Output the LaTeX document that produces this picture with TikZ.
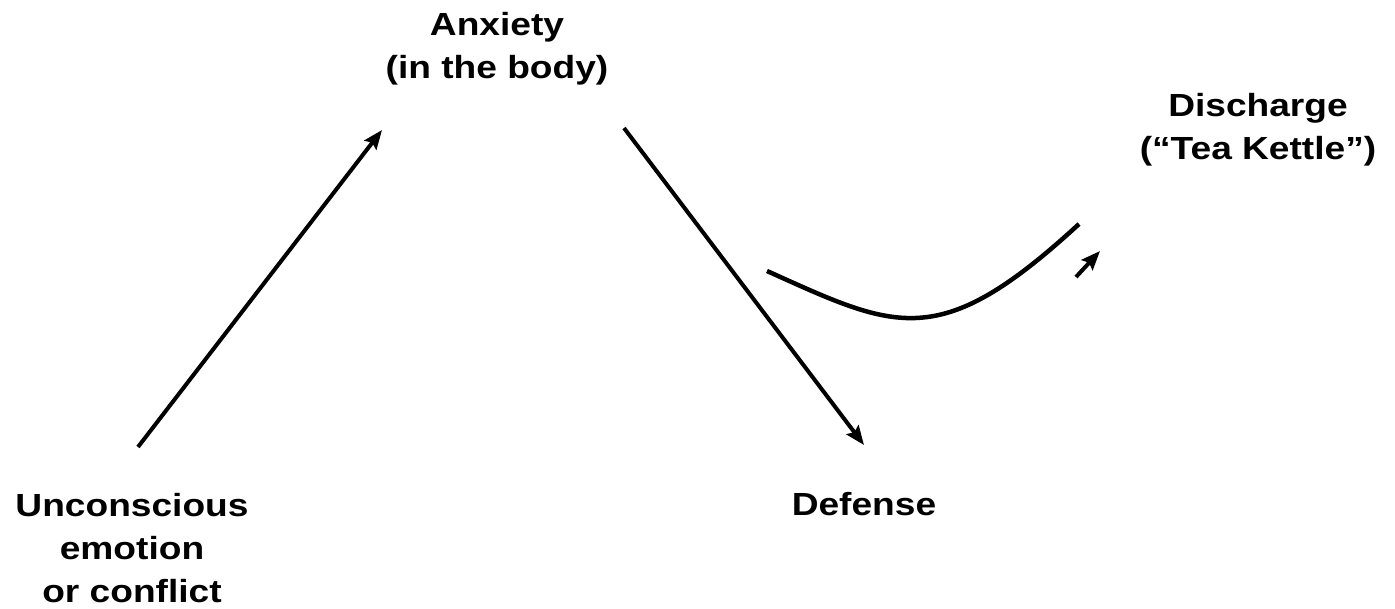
\documentclass[tikz,border=0pt]{standalone}
\usepackage{fontspec}
\setmainfont{Liberation Sans}
\newfontfamily\lblfont[FakeStretch=1.16]{Liberation Sans}
\usetikzlibrary{arrows.meta}
\tikzset{
  etiqueta/.style={
    align=center, inner sep=0pt, anchor=base,
    font=\lblfont\bfseries\fontsize{32}{43}\selectfont},
  flecha/.style={-{Stealth[length=19pt,width=15pt,inset=3pt]}, line width=4pt},
  curva/.style={line width=4.5pt}
}
\begin{document}
\begin{tikzpicture}[x=1pt,y=-1pt]
\useasboundingbox (0,0) rectangle (1395,608);

% Textos (anclados en la base de la ultima linea)
\node[etiqueta] (anxiety) at (497,78) {Anxiety\\(in the body)};
\node[etiqueta] (emotion) at (132,602) {Unconscious\\emotion\\or conflict};
\node[etiqueta] (defense) at (864,515) {Defense};
\node[etiqueta] (discharge) at (1258,159) {Discharge\\(“Tea Kettle”)};

% Extremos de las flechas
\coordinate (e1) at (138,447);
\coordinate (a1) at (382,130);
\coordinate (a2) at (624,128);
\coordinate (d1) at (864,445);
\coordinate (c1) at (767,271);
\coordinate (c2) at (1079,224);
\coordinate (k1) at (1076,277);
\coordinate (k2) at (1100,251);

\draw[flecha] (e1) -- (a1);
\draw[flecha] (a2) -- (d1);
\draw[curva] (c1) .. controls (897,329.5) and (939,353) .. (c2);
\draw[flecha] (k1) -- (k2);

\end{tikzpicture}
\end{document}
